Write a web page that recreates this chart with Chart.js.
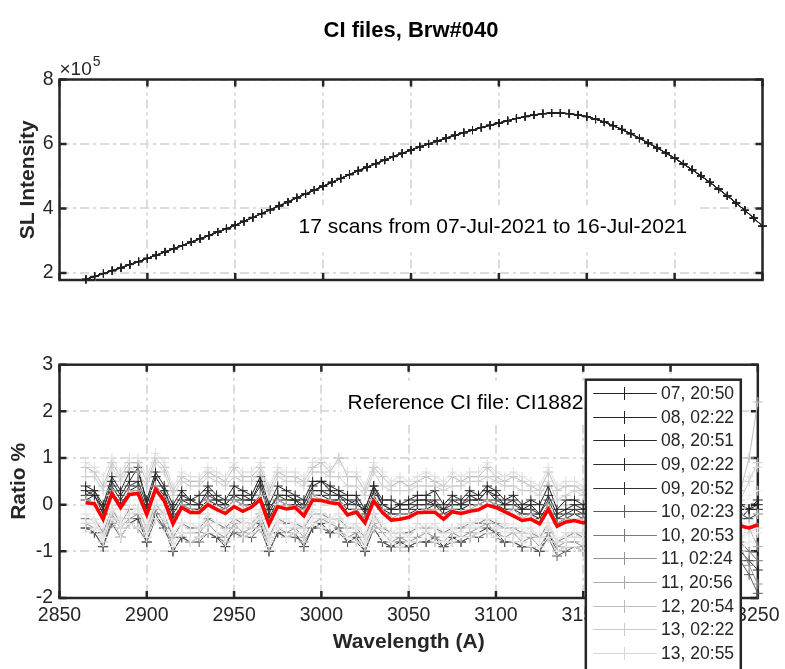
<!DOCTYPE html>
<html><head><meta charset="utf-8">
<script src="https://cdn.jsdelivr.net/npm/chart.js@4.4.1/dist/chart.umd.min.js"></script>
<style>
html,body{margin:0;padding:0;background:#fff;}
#wrap{position:relative;width:785px;height:669px;overflow:hidden;background:#fff;}
#c1{position:absolute;left:0;top:0;}
#c2{position:absolute;left:0;top:300px;}
</style></head><body>
<div id="wrap"><canvas id="c1" width="785" height="300"></canvas><canvas id="c2" width="785" height="369"></canvas></div>
<script>
// ---------------- DATA ----------------
const chartTitle = 'CI files, Brw#040';
const scanNote = '17 scans from 07-Jul-2021 to 16-Jul-2021';
const refNote = 'Reference CI file: CI18821.040';

const wavelengths = [
  2865,2870,2875,2880,2885,2890,2895,2900,2905,2910,2915,2920,2925,
  2930,2935,2940,2945,2950,2955,2960,2965,2970,2975,2980,2985,2990,
  2995,3000,3005,3010,3015,3020,3025,3030,3035,3040,3045,3050,3055,
  3060,3065,3070,3075,3080,3085,3090,3095,3100,3105,3110,3115,3120,
  3125,3130,3135,3140,3145,3150,3155,3160,3165,3170,3175,3180,3185,
  3190,3195,3200,3205,3210,3215,3220,3225,3230,3235,3240,3245,3250];

const wavelengthTicks = [2850,2900,2950,3000,3050,3100,3150,3200,3250];
const intensityTicks = [2,4,6,8];       // x 10^5
const ratioTicks = [-2,-1,0,1,2,3];

const scanLabels = ['07, 20:50','08, 02:22','08, 20:51','09, 02:22','09, 20:52','10, 02:23',
  '10, 20:53','11, 02:24','11, 20:56','12, 20:54','13, 02:22','13, 20:55',
  '14, 02:22','14, 20:55','15, 02:22','15, 20:56','16, 02:23'];

// SL intensity (units of 1e5 counts)
const slIntensity = [
  1.80,1.89,1.98,2.07,2.16,2.26,2.35,2.45,2.55,2.65,2.75,2.85,2.96,
  3.06,3.16,3.27,3.37,3.48,3.60,3.72,3.84,3.96,4.08,4.20,4.33,4.45,
  4.57,4.69,4.81,4.93,5.05,5.17,5.28,5.39,5.50,5.61,5.71,5.81,5.91,
  6.00,6.09,6.18,6.27,6.35,6.43,6.51,6.58,6.65,6.72,6.79,6.85,6.90,
  6.94,6.96,6.96,6.94,6.90,6.85,6.77,6.68,6.57,6.45,6.32,6.18,6.03,
  5.88,5.72,5.56,5.38,5.20,5.01,4.81,4.60,4.39,4.17,3.94,3.70,3.45];

// Ratio % per scan
const ratio01 = [0.3,0.2,-0.1,0.5,0.2,0.5,0.8,0.0,0.6,0.3,-0.1,0.2,0.1, 0.0,0.3,0.1,0.0,0.2,0.2,0.1,0.5,-0.1,0.2,0.2,0.1,0.0, 0.4,0.5,0.3,0.2,0.1,0.0,-0.1,0.4,0.0,-0.1,0.0,0.0,0.1, 0.1,0.0,-0.1,0.1,0.0,0.2,0.1,0.3,0.2,0.0,0.1,-0.1,0.0, -0.2,0.2,-0.2,-0.1,0.0,-0.1,0.0,-0.2,-0.1,-0.1,0.0,-0.2,-0.1, -0.2,-0.1,-0.2,-0.1,-0.2,-0.1,-0.2,0.0,-0.1,-0.2,-0.1,-0.1,0.0];
const ratio02 = [0.4,0.3,0.0,0.6,0.3,0.7,0.7,0.1,0.7,0.4,0.0,0.3,0.1, 0.2,0.4,0.2,0.1,0.4,0.3,0.2,0.6,0.0,0.4,0.3,0.2,0.1, 0.5,0.5,0.4,0.3,0.2,0.2,-0.1,0.4,0.1,0.1,0.0,0.1,0.2, 0.2,0.3,0.0,0.2,0.1,0.3,0.2,0.4,0.3,0.1,0.2,0.0,0.1, 0.0,0.4,-0.1,0.1,0.1,0.0,0.1,-0.1,0.0,0.0,0.1,0.0,0.0, -0.1,0.0,-0.1,0.0,-0.1,0.0,-0.1,0.1,0.0,-0.1,0.0,-0.1,0.1];
const ratio03 = [0.1,0.2,-0.2,0.3,0.0,0.3,0.4,-0.1,0.4,0.2,-0.3,0.0,-0.1, -0.1,0.1,0.0,-0.1,0.1,0.0,0.0,0.2,-0.3,0.1,0.0,0.0,-0.1, 0.2,0.2,0.1,0.1,-0.1,-0.1,-0.3,0.2,-0.1,-0.2,-0.2,-0.2,-0.1, -0.1,0.0,-0.2,-0.1,-0.1,0.0,0.0,0.1,0.0,-0.1,-0.1,-0.2,-0.2, -0.3,0.0,-0.4,-0.3,-0.2,-0.3,-0.2,-0.4,-0.3,-0.3,-0.3,-0.3,-0.3, -0.4,-0.3,-0.4,-0.3,-0.4,-0.3,-0.4,-0.3,-0.3,-0.4,-0.3,-0.1,-0.1];
const ratio04 = [-0.5,-0.6,-0.9,-0.3,-0.7,-0.4,-0.3,-0.8,-0.2,-0.5,-1.0,-0.7,-0.8, -0.7,-0.6,-0.7,-0.9,-0.5,-0.7,-0.6,-0.4,-1.0,-0.6,-0.7,-0.6,-0.9, -0.5,-0.4,-0.6,-0.5,-0.8,-0.7,-1.0,-0.5,-0.8,-0.9,-0.8,-0.9,-0.8, -0.8,-0.7,-0.9,-0.7,-0.8,-0.7,-0.6,-0.5,-0.6,-0.8,-0.8,-0.9,-0.9, -1.0,-0.6,-1.0,-0.9,-0.9,-1.0,-0.9,-1.0,-0.9,-1.0,-0.9,-1.0,-1.0, -1.0,-0.9,-1.0,-0.9,-1.0,-1.0,-1.1,-0.9,-1.0,-1.1,-1.0,-1.2,-1.4];
const ratio05 = [0.2,0.3,-0.1,0.4,0.1,0.4,0.5,0.0,0.6,0.3,-0.2,0.1,0.0, 0.0,0.2,0.1,0.0,0.2,0.1,0.1,0.4,-0.2,0.2,0.1,0.1,-0.1, 0.3,0.3,0.2,0.2,0.0,0.1,-0.2,0.3,0.0,-0.1,-0.1,-0.1,0.0, 0.0,0.1,-0.1,0.0,0.0,0.1,0.1,0.3,0.1,0.0,0.0,-0.1,-0.1, -0.2,0.1,-0.3,-0.2,-0.1,-0.2,-0.1,-0.3,-0.2,-0.2,-0.2,-0.2,-0.2, -0.3,-0.2,-0.3,-0.2,-0.3,-0.2,-0.3,-0.2,-0.2,-0.3,-0.2,-0.3,-0.2];
const ratio06 = [-0.5,-0.6,-0.9,-0.4,-0.7,-0.4,-0.5,-0.8,-0.3,-0.5,-1.0,-0.7,-0.8, -0.8,-0.6,-0.7,-0.8,-0.6,-0.7,-0.7,-0.5,-1.0,-0.6,-0.7,-0.7,-0.8, -0.5,-0.5,-0.6,-0.6,-0.8,-0.8,-1.0,-0.5,-0.8,-0.9,-0.9,-0.9,-0.8, -0.8,-0.8,-0.9,-0.8,-0.8,-0.7,-0.7,-0.6,-0.7,-0.8,-0.8,-0.9,-0.9, -1.0,-0.7,-1.1,-1.0,-0.9,-1.0,-0.9,-1.1,-1.0,-1.0,-1.0,-1.0,-1.0, -1.1,-1.0,-1.1,-1.0,-1.1,-1.0,-1.1,-1.0,-1.0,-1.1,-1.2,-1.5,-1.9];
const ratio07 = [-0.3,-0.3,-0.6,-0.1,-0.4,-0.1,-0.1,-0.5,0.0,-0.2,-0.7,-0.4,-0.5, -0.5,-0.3,-0.4,-0.5,-0.3,-0.4,-0.4,-0.2,-0.7,-0.3,-0.4,-0.4,-0.5, -0.2,-0.2,-0.3,-0.3,-0.5,-0.5,-0.7,-0.2,-0.5,-0.6,-0.6,-0.6,-0.5, -0.5,-0.5,-0.6,-0.5,-0.5,-0.4,-0.4,-0.3,-0.4,-0.5,-0.5,-0.6,-0.6, -0.7,-0.4,-0.8,-0.7,-0.6,-0.7,-0.6,-0.8,-0.7,-0.7,-0.7,-0.7,-0.7, -0.8,-0.7,-0.8,-0.7,-0.8,-0.7,-0.8,-0.7,-0.7,-0.8,-0.8,-1.0,-1.2];
const ratio08 = [-0.4,-0.5,-0.8,-0.2,-0.5,-0.3,-0.2,-0.7,-0.1,-0.4,-0.9,-0.6,-0.6, -0.6,-0.4,-0.6,-0.7,-0.4,-0.6,-0.5,-0.3,-0.9,-0.5,-0.6,-0.5,-0.7, -0.4,-0.3,-0.4,-0.5,-0.7,-0.6,-0.9,-0.4,-0.6,-0.8,-0.7,-0.8,-0.7, -0.6,-0.7,-0.8,-0.6,-0.7,-0.6,-0.5,-0.4,-0.6,-0.7,-0.6,-0.8,-0.7, -0.9,-0.6,-0.9,-0.8,-0.8,-0.9,-0.8,-0.9,-0.8,-0.9,-0.8,-0.9,-0.8, -0.9,-0.8,-0.9,-0.8,-0.9,-0.8,-0.9,-0.8,-0.9,-0.9,-0.9,-1.3,-1.7];
const ratio09 = [0.1,0.0,-0.3,0.3,-0.1,0.3,0.3,-0.2,0.4,0.1,-0.4,0.0,-0.1, -0.2,0.1,-0.1,-0.1,0.1,0.0,-0.1,0.2,-0.4,0.1,0.0,-0.1,-0.1, 0.2,0.1,0.1,0.0,-0.2,-0.1,-0.3,0.1,-0.1,-0.3,-0.2,-0.2,-0.2, -0.1,-0.1,-0.3,-0.1,-0.2,-0.1,0.0,0.1,0.0,-0.2,-0.1,-0.3,-0.2, -0.4,0.0,-0.4,-0.3,-0.3,-0.3,-0.3,-0.4,-0.4,-0.3,-0.4,-0.4,-0.3, -0.4,-0.4,-0.4,-0.3,-0.4,-0.4,-0.4,-0.4,-0.3,-0.4,-0.4,-0.5,-0.9];
const ratio10 = [0.8,0.7,0.4,0.9,0.6,0.9,0.9,0.5,1.0,0.8,0.3,0.6,0.5, 0.5,0.7,0.6,0.5,0.8,0.6,0.6,0.8,0.3,0.7,0.6,0.6,0.5, 0.8,0.9,0.7,1.0,0.6,0.6,0.3,0.8,0.6,0.4,0.5,0.4,0.5, 0.6,0.5,0.4,0.6,0.5,0.6,0.6,0.8,0.6,0.5,0.6,0.5,0.4, 0.3,0.7,0.3,0.4,0.4,0.3,0.4,0.3,0.3,0.3,0.4,0.3,0.3, 0.3,0.3,0.2,0.3,0.3,0.3,0.2,0.3,0.3,0.2,0.3,1.0,2.2];
const ratio11 = [0.6,0.6,0.3,0.8,0.5,0.8,0.7,0.4,0.9,0.7,0.2,0.5,0.4, 0.4,0.6,0.5,0.4,0.6,0.5,0.5,0.7,0.2,0.6,0.5,0.5,0.4, 0.7,0.7,0.6,0.6,0.4,0.4,0.2,0.7,0.4,0.3,0.3,0.3,0.4, 0.4,0.4,0.3,0.4,0.4,0.5,0.5,0.6,0.5,0.4,0.4,0.3,0.3, 0.2,0.5,0.1,0.2,0.3,0.2,0.3,0.1,0.2,0.2,0.2,0.2,0.2, 0.1,0.2,0.1,0.2,0.1,0.2,0.1,0.2,0.2,0.1,0.1,0.5,0.9];
const ratio12 = [-0.2,-0.4,-0.7,-0.1,-0.3,-0.2,-0.1,-0.5,0.1,-0.3,-0.6,-0.4,-0.4, -0.5,-0.2,-0.4,-0.6,-0.3,-0.3,-0.5,-0.1,-0.7,-0.4,-0.3,-0.5,-0.5, -0.1,-0.3,-0.3,-0.2,-0.5,-0.4,-0.7,-0.3,-0.4,-0.6,-0.5,-0.7,-0.4, -0.5,-0.4,-0.6,-0.6,-0.4,-0.5,-0.3,-0.3,-0.5,-0.4,-0.6,-0.6,-0.5, -0.7,-0.5,-0.8,-0.6,-0.7,-0.6,-0.7,-0.8,-0.6,-0.8,-0.7,-0.6,-0.7, -0.8,-0.6,-0.8,-0.8,-0.7,-0.8,-0.7,-0.7,-0.8,-0.7,-0.7,-0.6,-0.5];
const ratio13 = [0.9,0.8,0.6,1.0,0.7,1.0,1.0,0.6,1.1,0.9,0.4,0.7,0.6, 0.6,0.8,0.7,0.6,0.9,0.7,0.7,0.9,0.4,0.8,0.7,0.7,0.6, 0.9,1.0,0.8,0.9,0.7,0.7,0.4,0.9,0.7,0.5,0.6,0.5,0.6, 0.7,0.6,0.5,0.7,0.6,0.7,0.7,0.9,0.7,0.6,0.7,0.6,0.5, 0.4,0.8,0.4,0.5,0.5,0.4,0.5,0.4,0.4,0.4,0.5,0.4,0.4, 0.4,0.4,0.3,0.4,0.4,0.4,0.3,0.4,0.4,0.3,0.4,0.6,0.8];
const ratio14 = [-0.4,-0.3,-0.7,-0.1,-0.5,-0.2,-0.1,-0.6,0.0,-0.3,-0.8,-0.4,-0.6, -0.5,-0.4,-0.4,-0.6,-0.3,-0.5,-0.4,-0.3,-0.8,-0.3,-0.5,-0.4,-0.6, -0.3,-0.2,-0.4,-0.3,-0.6,-0.5,-0.8,-0.3,-0.5,-0.7,-0.6,-0.7,-0.5, -0.6,-0.5,-0.7,-0.5,-0.6,-0.4,-0.5,-0.3,-0.5,-0.6,-0.5,-0.7,-0.6, -0.8,-0.4,-0.8,-0.8,-0.6,-0.8,-0.6,-0.9,-0.7,-0.8,-0.7,-0.8,-0.7, -0.9,-0.7,-0.9,-0.7,-0.9,-0.7,-0.9,-0.7,-0.8,-0.8,-0.9,-0.8,-0.6];
const ratio15 = [-0.2,-0.3,-0.5,0.0,-0.4,0.0,-0.1,-0.4,0.1,-0.2,-0.6,-0.4,-0.4, -0.4,-0.2,-0.4,-0.4,-0.2,-0.4,-0.3,-0.2,-0.6,-0.3,-0.3,-0.4,-0.4, -0.2,-0.1,-0.3,-0.2,-0.4,-0.5,-0.6,-0.2,-0.4,-0.6,-0.5,-0.5,-0.5, -0.4,-0.5,-0.5,-0.5,-0.4,-0.4,-0.3,-0.3,-0.3,-0.5,-0.4,-0.5,-0.6, -0.6,-0.4,-0.7,-0.7,-0.5,-0.7,-0.5,-0.7,-0.7,-0.6,-0.7,-0.6,-0.7, -0.7,-0.7,-0.7,-0.7,-0.7,-0.7,-0.7,-0.7,-0.6,-0.7,-0.7,-0.4,-0.2];
const ratio16 = [0.0,-0.1,-0.3,0.2,-0.1,0.2,0.1,-0.2,0.3,0.0,-0.4,-0.1,-0.2, -0.2,0.0,-0.1,-0.2,0.0,-0.1,-0.1,0.1,-0.4,0.0,-0.1,-0.1,-0.2, 0.1,0.1,0.0,0.0,-0.2,-0.2,-0.4,0.1,-0.2,-0.3,-0.3,-0.3,-0.2, -0.2,-0.2,-0.3,-0.2,-0.2,-0.1,-0.1,0.0,-0.1,-0.2,-0.2,-0.3,-0.3, -0.4,-0.1,-0.5,-0.4,-0.3,-0.4,-0.3,-0.5,-0.4,-0.4,-0.4,-0.4,-0.4, -0.5,-0.4,-0.5,-0.4,-0.5,-0.4,-0.5,-0.4,-0.4,-0.5,-0.4,0.2,0.3];
const ratio17 = [-0.6,-0.5,-0.8,-0.3,-0.7,-0.4,-0.5,-0.7,-0.3,-0.6,-0.9,-0.6,-0.8, -0.7,-0.6,-0.6,-0.8,-0.5,-0.7,-0.6,-0.5,-0.9,-0.5,-0.7,-0.6,-0.8, -0.4,-0.5,-0.5,-0.6,-0.7,-0.8,-0.9,-0.5,-0.7,-0.8,-0.9,-0.8,-0.8, -0.7,-0.8,-0.8,-0.8,-0.7,-0.7,-0.6,-0.6,-0.7,-0.7,-0.8,-0.8,-0.9, -0.9,-0.7,-1.0,-0.9,-0.9,-1.0,-0.8,-1.0,-0.9,-1.0,-0.9,-1.0,-0.9, -1.0,-0.9,-1.1,-0.9,-1.0,-1.0,-1.0,-0.9,-1.0,-1.0,-1.0,-0.8,-0.6];
const scanRatios = [ratio01,ratio02,ratio03,ratio04,ratio05,ratio06,ratio07,ratio08,ratio09,
  ratio10,ratio11,ratio12,ratio13,ratio14,ratio15,ratio16,ratio17];

// mean ratio % (red line)
const meanRatio = [
  0.04,0.02,-0.31,0.24,-0.06,0.22,0.24,-0.21,0.33,0.08,-0.41,-0.06,-0.17,
  -0.17,0.00,-0.10,-0.19,-0.04,-0.14,-0.05,0.11,-0.42,-0.04,-0.09,-0.06,-0.24,
  0.10,0.09,0.04,0.02,-0.22,-0.16,-0.39,0.08,-0.17,-0.33,-0.31,-0.27,-0.17,
  -0.16,-0.16,-0.31,-0.15,-0.19,-0.14,-0.11,-0.01,-0.06,-0.15,-0.24,-0.34,-0.31,
  -0.41,-0.10,-0.46,-0.37,-0.34,-0.39,-0.32,-0.45,-0.38,-0.42,-0.36,-0.44,-0.40,
  -0.47,-0.41,-0.45,-0.38,-0.48,-0.42,-0.46,-0.40,-0.44,-0.50,-0.46,-0.50,-0.43];

// ---------------- STYLE ----------------
const scanColors = ['#202020','#242424','#282828','#2c2c2c','#303030','#5a5a5a','#787878','#929292',
  '#a8a8a8','#bcbcbc','#cbcbcb','#d6d6d6','#dedede','#e4e4e4','#e9e9e9','#ededed','#f0f0f0'];
const FONT = "'Liberation Sans', Arial, Helvetica, sans-serif";
const AX = '#262626';
Chart.defaults.font.family = FONT;
Chart.defaults.color = AX;

const pts = arr => wavelengths.map((w, i) => ({x: w, y: arr[i]}));
const gridOpts = {color: '#dcdcdc', lineWidth: 2, drawTicks: false};
const borderOpts = {display: false, dash: [9, 4, 3, 4]};

const frame = {
  id: 'frame',
  beforeDatasetsDraw(chart, args, o) {
    const {ctx, chartArea: a, scales: {x, y}} = chart;
    ctx.save();
    (o.notes || []).forEach(n => {
      ctx.font = `${n.size}px ${FONT}`;
      const px = x.getPixelForValue(n.x), py = y.getPixelForValue(n.y);
      const w = ctx.measureText(n.text).width;
      ctx.fillStyle = '#fff';
      ctx.fillRect(px - 6, py - n.size * 0.65 - 8, w + 16, n.size * 1.3 + 16);
    });
    ctx.setLineDash([]);
    ctx.strokeStyle = AX; ctx.lineWidth = 2.5;
    ctx.strokeRect(a.left, a.top, a.right - a.left, a.bottom - a.top);
    ctx.beginPath();
    x.ticks.forEach(t => { const p = x.getPixelForValue(t.value);
      ctx.moveTo(p, a.bottom); ctx.lineTo(p, a.bottom - 7); ctx.moveTo(p, a.top); ctx.lineTo(p, a.top + 7); });
    y.ticks.forEach(t => { const p = y.getPixelForValue(t.value);
      ctx.moveTo(a.left, p); ctx.lineTo(a.left + 7, p); ctx.moveTo(a.right, p); ctx.lineTo(a.right - 7, p); });
    ctx.stroke();
    ctx.restore();
  },
  afterDatasetsDraw(chart, args, o) {
    const {ctx, scales: {x, y}} = chart;
    ctx.save();
    (o.notes || []).forEach(n => {
      ctx.font = `${n.size}px ${FONT}`;
      ctx.fillStyle = '#000'; ctx.textAlign = 'left'; ctx.textBaseline = 'middle';
      ctx.fillText(n.text, x.getPixelForValue(n.x), y.getPixelForValue(n.y));
    });
    ctx.restore();
  },
  afterDraw(chart, args, o) {
    const {ctx, chartArea: a} = chart;
    ctx.save();
    if (o.title) {
      ctx.font = `bold 22px ${FONT}`; ctx.fillStyle = '#000';
      ctx.textAlign = 'center'; ctx.textBaseline = 'middle';
      ctx.fillText(o.title, (a.left + a.right) / 2, a.top - 49);
    }
    if (o.exponent) {
      ctx.fillStyle = AX; ctx.textAlign = 'left'; ctx.textBaseline = 'alphabetic';
      ctx.font = `19px ${FONT}`;
      ctx.fillText('\u00d710', a.left, a.top - 4.5);
      const w = ctx.measureText('\u00d710').width;
      ctx.font = `14px ${FONT}`;
      ctx.fillText(o.exponent, a.left + 1 + w, a.top - 13.5);
    }
    if (o.legend) {
      const L = a.right - 172, T = a.top + 15, W = 155;
      const H = chart.height - T + 20;
      ctx.fillStyle = '#fff'; ctx.fillRect(L, T, W, H);
      ctx.strokeStyle = AX; ctx.lineWidth = 2.5; ctx.strokeRect(L, T, W, H);
      ctx.font = `17.5px ${FONT}`; ctx.textAlign = 'left'; ctx.textBaseline = 'middle';
      o.legend.labels.forEach((lab, i) => {
        const yy = Math.round(T + 13.6 + i * 23.58) + 0.5;
        ctx.strokeStyle = o.legend.colors[i]; ctx.lineWidth = 1;
        ctx.beginPath();
        ctx.moveTo(L + 7.5, yy); ctx.lineTo(L + 71, yy);
        ctx.moveTo(Math.round(L + 38.6) + 0.5, yy - 6.5); ctx.lineTo(Math.round(L + 38.6) + 0.5, yy + 6.5);
        ctx.stroke();
        ctx.fillStyle = AX;
        ctx.fillText(lab, L + 75.3, yy + 1);
      });
    }
    ctx.restore();
  }
};

const xScale = (showLabels, height) => ({
  type: 'linear', min: 2850, max: 3250,
  afterBuildTicks: s => { s.ticks = wavelengthTicks.map(v => ({value: v})); },
  afterFit: s => { s.height = height; },
  ticks: {display: showLabels, padding: 5.5, color: AX, font: {size: 19.5}, callback: v => String(v), maxRotation: 0, autoSkip: false},
  grid: gridOpts, border: borderOpts,
  title: showLabels ? {display: true, text: 'Wavelength (A)', color: AX, font: {size: 21, weight: 'bold'}, padding: {top: 0, bottom: 14.4}} : {display: false}
});

const common = {
  responsive: false, animation: false, devicePixelRatio: 1, events: [],
  plugins: {legend: {display: false}, tooltip: {enabled: false}, title: {display: false}}
};

// ---------------- TOP CHART ----------------
new Chart(document.getElementById('c1'), {
  type: 'line',
  data: {
    datasets: scanLabels.map((lab, i) => ({
      label: lab, data: pts(slIntensity),
      borderColor: scanColors[i], borderWidth: 1,
      pointStyle: 'cross', pointRadius: 4, pointBorderWidth: 1,
      pointBorderColor: scanColors[i], pointBackgroundColor: scanColors[i],
      tension: 0, clip: false
    }))
  },
  options: Object.assign({}, common, {
    layout: {autoPadding: false, padding: {left: 0, top: 79.5, right: 22.5, bottom: 20}},
    scales: {
      x: xScale(false, 0),
      y: {
        type: 'linear', min: 1.78, max: 8,
        afterBuildTicks: s => { s.ticks = intensityTicks.map(v => ({value: v})); },
        afterFit: s => { s.width = 59.5; },
        ticks: {padding: 6, color: AX, font: {size: 19.5}, callback: v => String(v)},
        grid: gridOpts, border: borderOpts,
        title: {display: true, text: 'SL Intensity', color: AX, font: {size: 21, weight: 'bold'}, padding: {top: 16, bottom: 0}}
      }
    },
    plugins: Object.assign({}, common.plugins, {
      frame: {
        title: chartTitle, exponent: '5',
        notes: [{text: scanNote, x: 2986, y: 3.43, size: 21}]
      }
    })
  }),
  plugins: [frame]
});

// ---------------- BOTTOM CHART ----------------
const ratioSets = scanLabels.map((lab, i) => ({
  label: lab, data: pts(scanRatios[i]), order: scanLabels.length - i,
  borderColor: scanColors[i], borderWidth: 1,
  pointStyle: 'cross', pointRadius: 5, pointBorderWidth: 1,
  pointBorderColor: scanColors[i], pointBackgroundColor: scanColors[i],
  tension: 0, clip: false
}));
ratioSets.push({
  label: 'mean', data: pts(meanRatio), order: 0,
  borderColor: '#ff0000', borderWidth: 3.5, pointRadius: 0, tension: 0, clip: false
});

new Chart(document.getElementById('c2'), {
  type: 'line',
  data: {datasets: ratioSets},
  options: Object.assign({}, common, {
    layout: {autoPadding: false, padding: {left: 0, top: 64.7, right: 22.5, bottom: 0}},
    scales: {
      x: xScale(true, 71),
      y: {
        type: 'linear', min: -2, max: 3,
        afterBuildTicks: s => { s.ticks = ratioTicks.map(v => ({value: v})); },
        afterFit: s => { s.width = 59.5; },
        ticks: {padding: 6.5, color: AX, font: {size: 19.5}, callback: v => String(v)},
        grid: gridOpts, border: borderOpts,
        title: {display: true, text: 'Ratio %', color: AX, font: {size: 21, weight: 'bold'}, padding: {top: 7, bottom: 0}}
      }
    },
    plugins: Object.assign({}, common.plugins, {
      frame: {
        notes: [{text: refNote, x: 3015, y: 2.18, size: 21}],
        legend: {labels: scanLabels, colors: scanColors}
      }
    })
  }),
  plugins: [frame]
});
</script>
</body></html>
